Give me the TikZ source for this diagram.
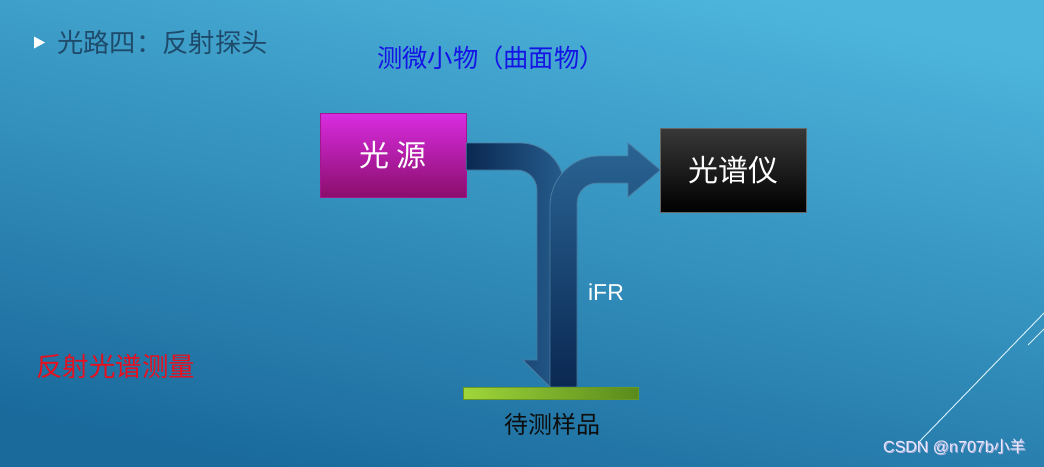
\documentclass[tikz,border=0pt]{standalone}
\usepackage{fontspec}
\setmainfont{Liberation Sans}
\newfontfamily\cjk{Noto Sans CJK SC}
\definecolor{bgtop}{HTML}{4DB5DC}
\definecolor{bgbot}{HTML}{1A6A9C}
\definecolor{titlec}{HTML}{1E4B6B}
\definecolor{bluet}{HTML}{1414E6}
\definecolor{redt}{HTML}{E8101E}
\definecolor{magtop}{HTML}{DA2CE2}
\definecolor{magbot}{HTML}{8A0E6C}
\definecolor{navy}{HTML}{0A2852}
\definecolor{midb}{HTML}{2A6494}
\definecolor{arredge}{HTML}{4A7DA2}
\definecolor{grL}{HTML}{A0D63A}
\definecolor{grR}{HTML}{5A8A1C}
\begin{document}
\begin{tikzpicture}[x=1pt,y=-1pt,
  cjkt/.style={font=\cjk\fontsize{#1}{#1}\selectfont, inner sep=0pt},
  box/.style={minimum width=146pt, minimum height=84pt, inner sep=0pt, text=white, font=\cjk\fontsize{30}{30}\selectfont},
  arr/.style={draw=arredge, line width=0.8pt}]
\useasboundingbox (0,0) rectangle (1044,466);
\shade[top color=bgtop, bottom color=bgbot, shading angle=-12] (0,0) rectangle (1044,466);

% title
\fill[white] (34,36.5) -- (45,42.5) -- (34,48.5) -- cycle;
\node[cjkt=26.3, text=titlec, anchor=west] (title) at (57,43) {光路四：反射探头};
\node[cjkt=25.3, text=bluet] (sub) at (491,58) {测微小物（曲面物）};

% boxes
\node[box, top color=magtop, bottom color=magbot, draw=magbot!70!magtop, line width=0.6pt] (src) at (393,155) {光 源};
\node[box, top color=black!78, bottom color=black, draw=black!60, line width=0.6pt] (spec) at (733.5,170) {光谱仪};

% arrow 1 (from light source down to sample)
\shadedraw[arr, left color=navy, right color=midb] (src.east |- 0,143) -- (520,143)
  .. controls (544.3,143) and (564,162.7) .. (564,187)
  -- (564,360) -- (577,360) -- (550,387) -- (523,360) -- (537,360) -- (537,190)
  .. controls (537,179) and (528,170) .. (517,170) -- (src.east |- 0,170) -- cycle;
% arrow 2 (from sample to spectrometer)
\shadedraw[arr, bottom color=navy, top color=midb] (550,387) -- (550,206)
  .. controls (550,178.4) and (572.4,156) .. (600,156) -- (628,156) -- (628,143)
  -- (spec.west |- 0,170) -- (628,197) -- (628,183) -- (597,183)
  .. controls (586,183) and (577,192) .. (577,203) -- (577,387) -- cycle;

% sample
\node[minimum width=175pt, minimum height=12pt, inner sep=0pt, left color=grL, right color=grR, draw=grR!80!grL, line width=0.6pt] (sample) at (550.5,393) {};
\node[cjkt=24, text=black!95] (samplet) at (552,424) {待测样品};

\node[font=\fontsize{23}{23}\selectfont, text=white, inner sep=0pt] (ifr) at (606,292) {iFR};
\node[cjkt=26.5, text=redt, anchor=west] (meas) at (36,366) {反射光谱测量};

% decorative lines
\draw[white!85!cyan, line width=0.9pt] (918,443) -- (1044,313);
\draw[white!85!cyan, line width=0.9pt] (1028,345) -- (1044,329);

% watermark
\node[font=\fontsize{16}{16}\selectfont, text=black!40!blue!30, inner sep=0pt, anchor=west] at (884,448) {CSDN @n707b{\cjk 小羊}};
\node[font=\fontsize{16}{16}\selectfont, text=white!85!blue!60, inner sep=0pt, anchor=west] (wm) at (883,447) {CSDN @n707b{\cjk 小羊}};
\end{tikzpicture}
\end{document}
